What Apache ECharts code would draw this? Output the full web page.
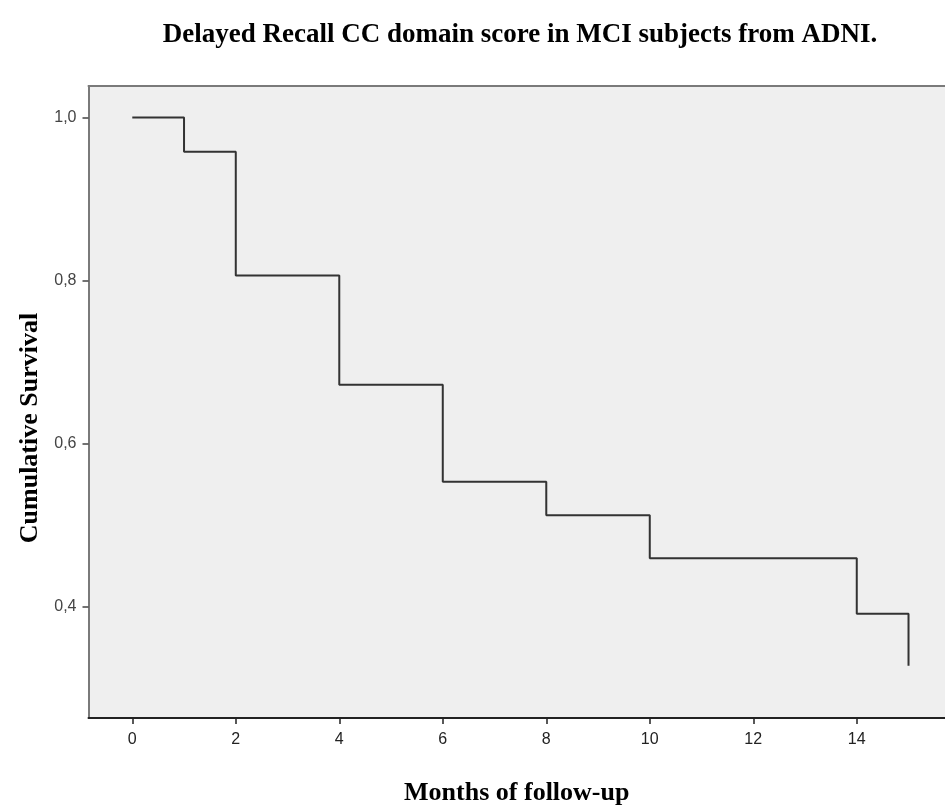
<!DOCTYPE html>
<html>
<head>
<meta charset="utf-8">
<script src="https://cdn.jsdelivr.net/npm/echarts@6/dist/echarts.min.js"></script>
<style>
  html, body { margin: 0; padding: 0; background: #fff; }
  #chart { width: 945px; height: 811px; }
</style>
</head>
<body>
<div id="chart"></div>
<script>
// Kaplan-Meier steps
var months = [0, 1, 2, 4, 6, 8, 10, 14, 15];
var survival = [1.0, 0.958, 0.806, 0.672, 0.553, 0.512, 0.459, 0.391, 0.327];
var xTicks = [0, 2, 4, 6, 8, 10, 12, 14];
var yTicks = [0.4, 0.6, 0.8, 1.0];

var serif = '"Liberation Serif", "DejaVu Serif", serif';
var sans = '"Liberation Sans", Arial, sans-serif';

// plot runs off the right edge of the page, so clip the x range there
var xMin = -0.846, xMax = 15.705;

var chart = echarts.init(document.getElementById('chart'));

var option = {
    animation: false,
    title: {
        text: 'Delayed Recall CC domain score in MCI subjects from ADNI.',
        left: 515,
        top: 17,
        textAlign: 'center',
        textStyle: { fontFamily: serif, fontWeight: 'bold', fontSize: 27, color: '#000' }
    },
    grid: {
        left: 88.5,
        top: 86,
        right: 0,
        bottom: 93,
        outerBoundsMode: 'none',
        show: true,
        backgroundColor: '#efefef',
        borderWidth: 0
    },
    xAxis: [{
        type: 'value',
        min: xMin,
        max: xMax,
        name: 'Months of follow-up',
        nameLocation: 'middle',
        nameGap: 62,
        nameTextStyle: { fontFamily: serif, fontWeight: 'bold', fontSize: 26, color: '#000' },
        axisLine: { show: true, lineStyle: { color: '#222', width: 2 } },
        axisTick: { show: true, customValues: xTicks, length: 6, lineStyle: { color: '#222', width: 1.5 } },
        axisLabel: {
            customValues: xTicks,
            margin: 14,
            fontFamily: sans,
            fontSize: 16,
            color: '#222'
        },
        splitLine: { show: false }
    }, {
        // top frame line only
        type: 'value',
        position: 'top',
        min: xMin,
        max: xMax,
        axisLine: { show: true, lineStyle: { color: '#7a7a7a', width: 2 } },
        axisTick: { show: false },
        axisLabel: { show: false },
        splitLine: { show: false }
    }],
    yAxis: {
        type: 'value',
        min: 0.263,
        max: 1.0387,
        name: 'Cumulative Survival',
        nameLocation: 'middle',
        nameGap: 44,
        nameTextStyle: {
            fontFamily: serif, fontWeight: 'bold', fontSize: 26, color: '#000',
            padding: [0, 52, 0, 0]
        },
        axisLine: { show: true, onZero: false, lineStyle: { color: '#7a7a7a', width: 2 } },
        axisTick: { show: true, customValues: yTicks, length: 6, lineStyle: { color: '#444', width: 1.5 } },
        axisLabel: {
            customValues: yTicks,
            margin: 12,
            fontFamily: sans,
            fontSize: 16,
            color: '#444',
            formatter: function (v) { return v.toFixed(1).replace('.', ','); }
        },
        splitLine: { show: false }
    },
    series: [{
        type: 'line',
        step: 'end',
        symbol: 'none',
        data: months.map(function (m, i) { return [m, survival[i]]; }),
        lineStyle: { color: '#333', width: 2 }
    }]
};

chart.setOption(option);
</script>
</body>
</html>
